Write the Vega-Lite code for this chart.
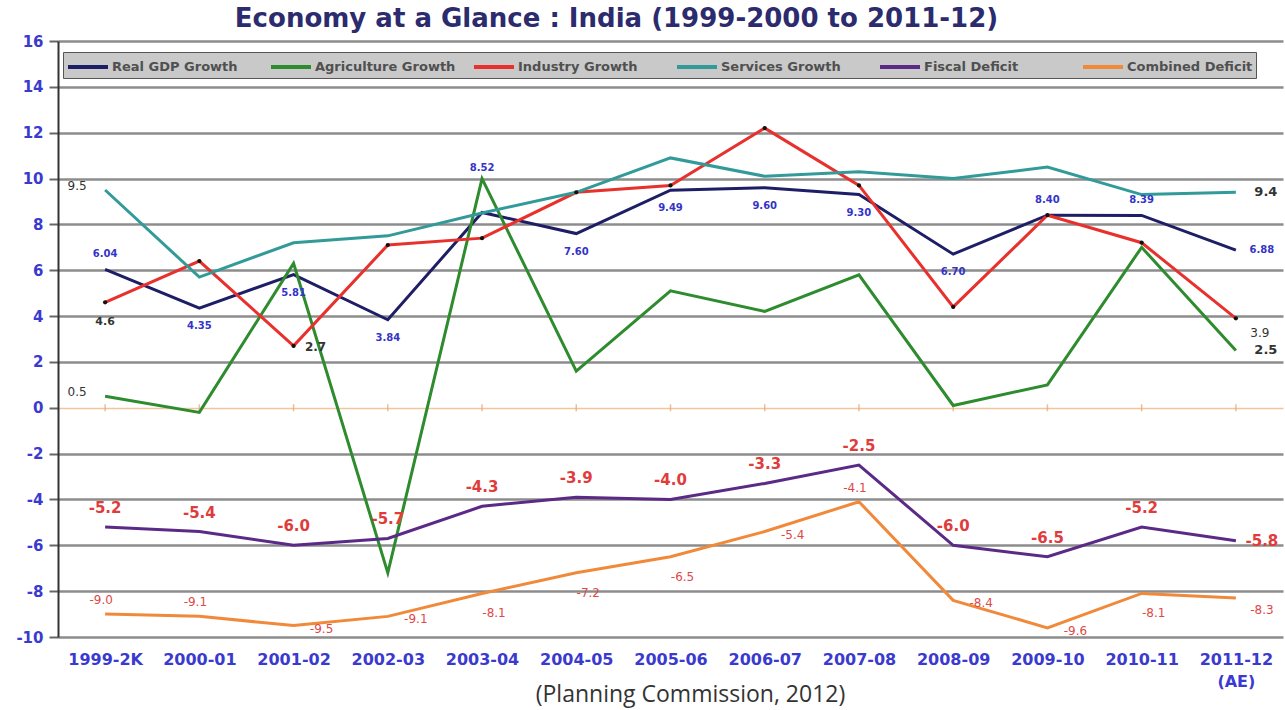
{
  "$schema": "https://vega.github.io/schema/vega-lite/v6.json",
  "width": 1225,
  "height": 596,
  "autosize": "none",
  "padding": {"left": 58, "top": 41, "right": 2, "bottom": 73},
  "background": "white",
  "title": {
    "text": "Economy at a Glance : India (1999-2000 to 2011-12)",
    "font": "DejaVu Sans", "fontSize": 26, "fontWeight": "bold", "color": "#2B2B6E",
    "anchor": "middle", "dx": -54, "dy": 31, "offset": 12, "baseline": "alphabetic"
  },
  "data": {
    "values": [
      {"year": "1999-2K", "series": "Real GDP Growth", "value": 6.04},
      {"year": "2000-01", "series": "Real GDP Growth", "value": 4.35},
      {"year": "2001-02", "series": "Real GDP Growth", "value": 5.81},
      {"year": "2002-03", "series": "Real GDP Growth", "value": 3.84},
      {"year": "2003-04", "series": "Real GDP Growth", "value": 8.52},
      {"year": "2004-05", "series": "Real GDP Growth", "value": 7.60},
      {"year": "2005-06", "series": "Real GDP Growth", "value": 9.49},
      {"year": "2006-07", "series": "Real GDP Growth", "value": 9.60},
      {"year": "2007-08", "series": "Real GDP Growth", "value": 9.30},
      {"year": "2008-09", "series": "Real GDP Growth", "value": 6.70},
      {"year": "2009-10", "series": "Real GDP Growth", "value": 8.40},
      {"year": "2010-11", "series": "Real GDP Growth", "value": 8.39},
      {"year": "2011-12", "series": "Real GDP Growth", "value": 6.88},
      {"year": "1999-2K", "series": "Agriculture Growth", "value": 0.5},
      {"year": "2000-01", "series": "Agriculture Growth", "value": -0.2},
      {"year": "2001-02", "series": "Agriculture Growth", "value": 6.3},
      {"year": "2002-03", "series": "Agriculture Growth", "value": -7.2},
      {"year": "2003-04", "series": "Agriculture Growth", "value": 10.0},
      {"year": "2004-05", "series": "Agriculture Growth", "value": 1.6},
      {"year": "2005-06", "series": "Agriculture Growth", "value": 5.1},
      {"year": "2006-07", "series": "Agriculture Growth", "value": 4.2},
      {"year": "2007-08", "series": "Agriculture Growth", "value": 5.8},
      {"year": "2008-09", "series": "Agriculture Growth", "value": 0.1},
      {"year": "2009-10", "series": "Agriculture Growth", "value": 1.0},
      {"year": "2010-11", "series": "Agriculture Growth", "value": 7.0},
      {"year": "2011-12", "series": "Agriculture Growth", "value": 2.5},
      {"year": "1999-2K", "series": "Industry Growth", "value": 4.6},
      {"year": "2000-01", "series": "Industry Growth", "value": 6.4},
      {"year": "2001-02", "series": "Industry Growth", "value": 2.7},
      {"year": "2002-03", "series": "Industry Growth", "value": 7.1},
      {"year": "2003-04", "series": "Industry Growth", "value": 7.4},
      {"year": "2004-05", "series": "Industry Growth", "value": 9.4},
      {"year": "2005-06", "series": "Industry Growth", "value": 9.7},
      {"year": "2006-07", "series": "Industry Growth", "value": 12.2},
      {"year": "2007-08", "series": "Industry Growth", "value": 9.7},
      {"year": "2008-09", "series": "Industry Growth", "value": 4.4},
      {"year": "2009-10", "series": "Industry Growth", "value": 8.4},
      {"year": "2010-11", "series": "Industry Growth", "value": 7.2},
      {"year": "2011-12", "series": "Industry Growth", "value": 3.9},
      {"year": "1999-2K", "series": "Services Growth", "value": 9.5},
      {"year": "2000-01", "series": "Services Growth", "value": 5.7},
      {"year": "2001-02", "series": "Services Growth", "value": 7.2},
      {"year": "2002-03", "series": "Services Growth", "value": 7.5},
      {"year": "2003-04", "series": "Services Growth", "value": 8.5},
      {"year": "2004-05", "series": "Services Growth", "value": 9.4},
      {"year": "2005-06", "series": "Services Growth", "value": 10.9},
      {"year": "2006-07", "series": "Services Growth", "value": 10.1},
      {"year": "2007-08", "series": "Services Growth", "value": 10.3},
      {"year": "2008-09", "series": "Services Growth", "value": 10.0},
      {"year": "2009-10", "series": "Services Growth", "value": 10.5},
      {"year": "2010-11", "series": "Services Growth", "value": 9.3},
      {"year": "2011-12", "series": "Services Growth", "value": 9.4},
      {"year": "1999-2K", "series": "Fiscal Deficit", "value": -5.2},
      {"year": "2000-01", "series": "Fiscal Deficit", "value": -5.4},
      {"year": "2001-02", "series": "Fiscal Deficit", "value": -6.0},
      {"year": "2002-03", "series": "Fiscal Deficit", "value": -5.7},
      {"year": "2003-04", "series": "Fiscal Deficit", "value": -4.3},
      {"year": "2004-05", "series": "Fiscal Deficit", "value": -3.9},
      {"year": "2005-06", "series": "Fiscal Deficit", "value": -4.0},
      {"year": "2006-07", "series": "Fiscal Deficit", "value": -3.3},
      {"year": "2007-08", "series": "Fiscal Deficit", "value": -2.5},
      {"year": "2008-09", "series": "Fiscal Deficit", "value": -6.0},
      {"year": "2009-10", "series": "Fiscal Deficit", "value": -6.5},
      {"year": "2010-11", "series": "Fiscal Deficit", "value": -5.2},
      {"year": "2011-12", "series": "Fiscal Deficit", "value": -5.8},
      {"year": "1999-2K", "series": "Combined Deficit", "value": -9.0},
      {"year": "2000-01", "series": "Combined Deficit", "value": -9.1},
      {"year": "2001-02", "series": "Combined Deficit", "value": -9.5},
      {"year": "2002-03", "series": "Combined Deficit", "value": -9.1},
      {"year": "2003-04", "series": "Combined Deficit", "value": -8.1},
      {"year": "2004-05", "series": "Combined Deficit", "value": -7.2},
      {"year": "2005-06", "series": "Combined Deficit", "value": -6.5},
      {"year": "2006-07", "series": "Combined Deficit", "value": -5.4},
      {"year": "2007-08", "series": "Combined Deficit", "value": -4.1},
      {"year": "2008-09", "series": "Combined Deficit", "value": -8.4},
      {"year": "2009-10", "series": "Combined Deficit", "value": -9.6},
      {"year": "2010-11", "series": "Combined Deficit", "value": -8.1},
      {"year": "2011-12", "series": "Combined Deficit", "value": -8.3}
    ]
  },
  "encoding": {
    "x": {
      "field": "year", "type": "ordinal",
      "scale": {"type": "point", "padding": 0.5,
        "domain": ["1999-2K","2000-01","2001-02","2002-03","2003-04","2004-05","2005-06","2006-07","2007-08","2008-09","2009-10","2010-11","2011-12"]},
      "axis": {
        "title": "(Planning Commission, 2012)",
        "titleFont": "Open Sans", "titleFontSize": 23, "titleFontWeight": "normal", "titleColor": "#333333",
        "titleX": 632, "titleY": 57, "titleBaseline": "middle", "titleAnchor": "middle",
        "labelExpr": "datum.value == '2011-12' ? ['2011-12', '(AE)'] : datum.value",
        "labelAngle": 0, "labelFont": "DejaVu Sans", "labelFontSize": 16, "labelFontWeight": "bold",
        "labelColor": "#3A3AD0", "labelPadding": 14, "labelLineHeight": 22, "labelBaseline": "top",
        "ticks": false, "domain": false, "grid": false
      }
    },
    "y": {
      "field": "value", "type": "quantitative",
      "scale": {"domain": [-10, 16], "nice": false, "zero": false},
      "axis": {
        "title": null,
        "values": [-10, -8, -6, -4, -2, 0, 2, 4, 6, 8, 10, 12, 14, 16],
        "labelExpr": "'' + datum.value",
        "labelFont": "DejaVu Sans", "labelFontSize": 15, "labelFontWeight": "bold", "labelColor": "#3A3AD0",
        "labelPadding": 6, "tickSize": 9, "tickColor": "#666666", "tickWidth": 2,
        "domain": true, "domainColor": "#333333", "domainWidth": 2,
        "grid": true,
        "gridColor": {"condition": {"test": "datum.value === 0", "value": "#F3C59C"}, "value": "#8C8C8C"},
        "gridWidth": {"condition": {"test": "datum.value === 0", "value": 1.5}, "value": 2.5}
      }
    }
  },
  "layer": [
    {
      "transform": [{"filter": "datum.series == 'Real GDP Growth'"}],
      "mark": {"type": "tick", "orient": "vertical", "size": 7, "thickness": 1.5, "color": "#E8A070"},
      "encoding": {"y": {"datum": 0}}
    },
    {
      "mark": {"type": "line", "strokeWidth": 3},
      "encoding": {
        "color": {
          "field": "series", "type": "nominal",
          "scale": {
            "domain": ["Real GDP Growth", "Agriculture Growth", "Industry Growth", "Services Growth", "Fiscal Deficit", "Combined Deficit"],
            "range": ["#1E1E66", "#2E8B2E", "#E8302C", "#339A9A", "#5B2A86", "#F08A3A"]
          },
          "legend": {
            "title": null, "orient": "none", "legendX": 5, "legendY": 11, "direction": "horizontal",
            "columns": 6, "gridAlign": "all", "columnPadding": 10,
            "fillColor": "#C9C9C9", "strokeColor": "#555555", "padding": 3,
            "symbolType": "M-1,0H3", "symbolStrokeWidth": 4, "symbolSize": 400,
            "labelFont": "DejaVu Sans", "labelFontWeight": "bold", "labelFontSize": 13, "labelColor": "#505050",
            "labelLimit": 300, "labelOffset": 22
          }
        },
        "order": {"value": 1}
      }
    },
    {
      "transform": [{"filter": "datum.series == 'Industry Growth'"}],
      "mark": {"type": "point", "filled": true, "color": "#111111", "size": 18, "opacity": 1}
    },
    {
      "transform": [{"filter": "datum.series == 'Real GDP Growth' && indexof(['2000-01','2001-02','2002-03','2004-05','2005-06','2006-07','2007-08','2008-09'], datum.year) >= 0"}],
      "mark": {"type": "text", "dy": 18, "font": "DejaVu Sans", "fontSize": 10, "fontWeight": "bold", "color": "#3434C8"},
      "encoding": {"text": {"field": "value", "type": "quantitative", "format": ".2f"}}
    },
    {
      "transform": [{"filter": "datum.series == 'Real GDP Growth' && indexof(['1999-2K','2009-10','2010-11'], datum.year) >= 0"}],
      "mark": {"type": "text", "dy": -15, "font": "DejaVu Sans", "fontSize": 10, "fontWeight": "bold", "color": "#3434C8"},
      "encoding": {"text": {"field": "value", "type": "quantitative", "format": ".2f"}}
    },
    {
      "transform": [{"filter": "datum.series == 'Real GDP Growth' && datum.year == '2003-04'"}],
      "mark": {"type": "text", "dy": -44, "font": "DejaVu Sans", "fontSize": 10, "fontWeight": "bold", "color": "#3434C8"},
      "encoding": {"text": {"field": "value", "type": "quantitative", "format": ".2f"}}
    },
    {
      "transform": [{"filter": "datum.series == 'Real GDP Growth' && datum.year == '2011-12'"}],
      "mark": {"type": "text", "dx": 26, "font": "DejaVu Sans", "fontSize": 10, "fontWeight": "bold", "color": "#3434C8"},
      "encoding": {"text": {"field": "value", "type": "quantitative", "format": ".2f"}}
    },
    {
      "transform": [{"filter": "datum.series == 'Fiscal Deficit' && datum.year != '2011-12'"}],
      "mark": {"type": "text", "dy": -19, "font": "DejaVu Sans", "fontSize": 15, "fontWeight": "bold", "color": "#E03C3C"},
      "encoding": {"text": {"field": "value", "type": "quantitative", "format": ".1f"}}
    },
    {
      "transform": [{"filter": "datum.series == 'Fiscal Deficit' && datum.year == '2011-12'"}],
      "mark": {"type": "text", "dx": 26, "font": "DejaVu Sans", "fontSize": 15, "fontWeight": "bold", "color": "#E03C3C"},
      "encoding": {"text": {"field": "value", "type": "quantitative", "format": ".1f"}}
    },
    {
      "transform": [{"filter": "datum.series == 'Combined Deficit' && indexof(['1999-2K','2000-01','2007-08'], datum.year) >= 0"}],
      "mark": {"type": "text", "dy": -14, "dx": -4, "font": "DejaVu Sans", "fontSize": 12, "color": "#E04848"},
      "encoding": {"text": {"field": "value", "type": "quantitative", "format": ".1f"}}
    },
    {
      "transform": [{"filter": "datum.series == 'Combined Deficit' && indexof(['2001-02','2002-03','2006-07','2008-09','2009-10'], datum.year) >= 0"}],
      "mark": {"type": "text", "dx": 28, "dy": 3, "font": "DejaVu Sans", "fontSize": 12, "color": "#E04848"},
      "encoding": {"text": {"field": "value", "type": "quantitative", "format": ".1f"}}
    },
    {
      "transform": [{"filter": "datum.series == 'Combined Deficit' && indexof(['2003-04','2004-05','2005-06','2010-11'], datum.year) >= 0"}],
      "mark": {"type": "text", "dx": 12, "dy": 20, "font": "DejaVu Sans", "fontSize": 12, "color": "#E04848"},
      "encoding": {"text": {"field": "value", "type": "quantitative", "format": ".1f"}}
    },
    {
      "transform": [{"filter": "datum.series == 'Combined Deficit' && datum.year == '2011-12'"}],
      "mark": {"type": "text", "dx": 26, "dy": 12, "font": "DejaVu Sans", "fontSize": 12, "color": "#E04848"},
      "encoding": {"text": {"field": "value", "type": "quantitative", "format": ".1f"}}
    },
    {
      "transform": [{"filter": "(datum.series == 'Services Growth' || datum.series == 'Agriculture Growth') && datum.year == '1999-2K'"}],
      "mark": {"type": "text", "dx": -28, "dy": -4, "font": "DejaVu Sans", "fontSize": 12, "color": "#333333"},
      "encoding": {"text": {"field": "value", "type": "quantitative", "format": ".1f"}}
    },
    {
      "transform": [{"filter": "datum.series == 'Industry Growth' && datum.year == '1999-2K'"}],
      "mark": {"type": "text", "dy": 20, "font": "DejaVu Sans", "fontSize": 11, "fontWeight": "bold", "color": "#333333"},
      "encoding": {"text": {"field": "value", "type": "quantitative", "format": ".1f"}}
    },
    {
      "transform": [{"filter": "datum.series == 'Industry Growth' && datum.year == '2001-02'"}],
      "mark": {"type": "text", "dx": 22, "dy": 1, "font": "DejaVu Sans", "fontSize": 12, "fontWeight": "bold", "color": "#333333"},
      "encoding": {"text": {"field": "value", "type": "quantitative", "format": ".1f"}}
    },
    {
      "transform": [{"filter": "(datum.series == 'Services Growth' || datum.series == 'Agriculture Growth') && datum.year == '2011-12'"}],
      "mark": {"type": "text", "dx": 30, "dy": 0, "font": "DejaVu Sans", "fontSize": 13, "fontWeight": "bold", "color": "#333333"},
      "encoding": {"text": {"field": "value", "type": "quantitative", "format": ".1f"}}
    },
    {
      "transform": [{"filter": "datum.series == 'Industry Growth' && datum.year == '2011-12'"}],
      "mark": {"type": "text", "dx": 24, "dy": 15, "font": "DejaVu Sans", "fontSize": 12, "color": "#333333"},
      "encoding": {"text": {"field": "value", "type": "quantitative", "format": ".1f"}}
    }
  ],
  "config": {
    "view": {"stroke": null},
    "locale": {
      "number": {"decimal": ".", "thousands": ",", "grouping": [3], "currency": ["$", ""], "minus": "-"}
    }
  }
}
